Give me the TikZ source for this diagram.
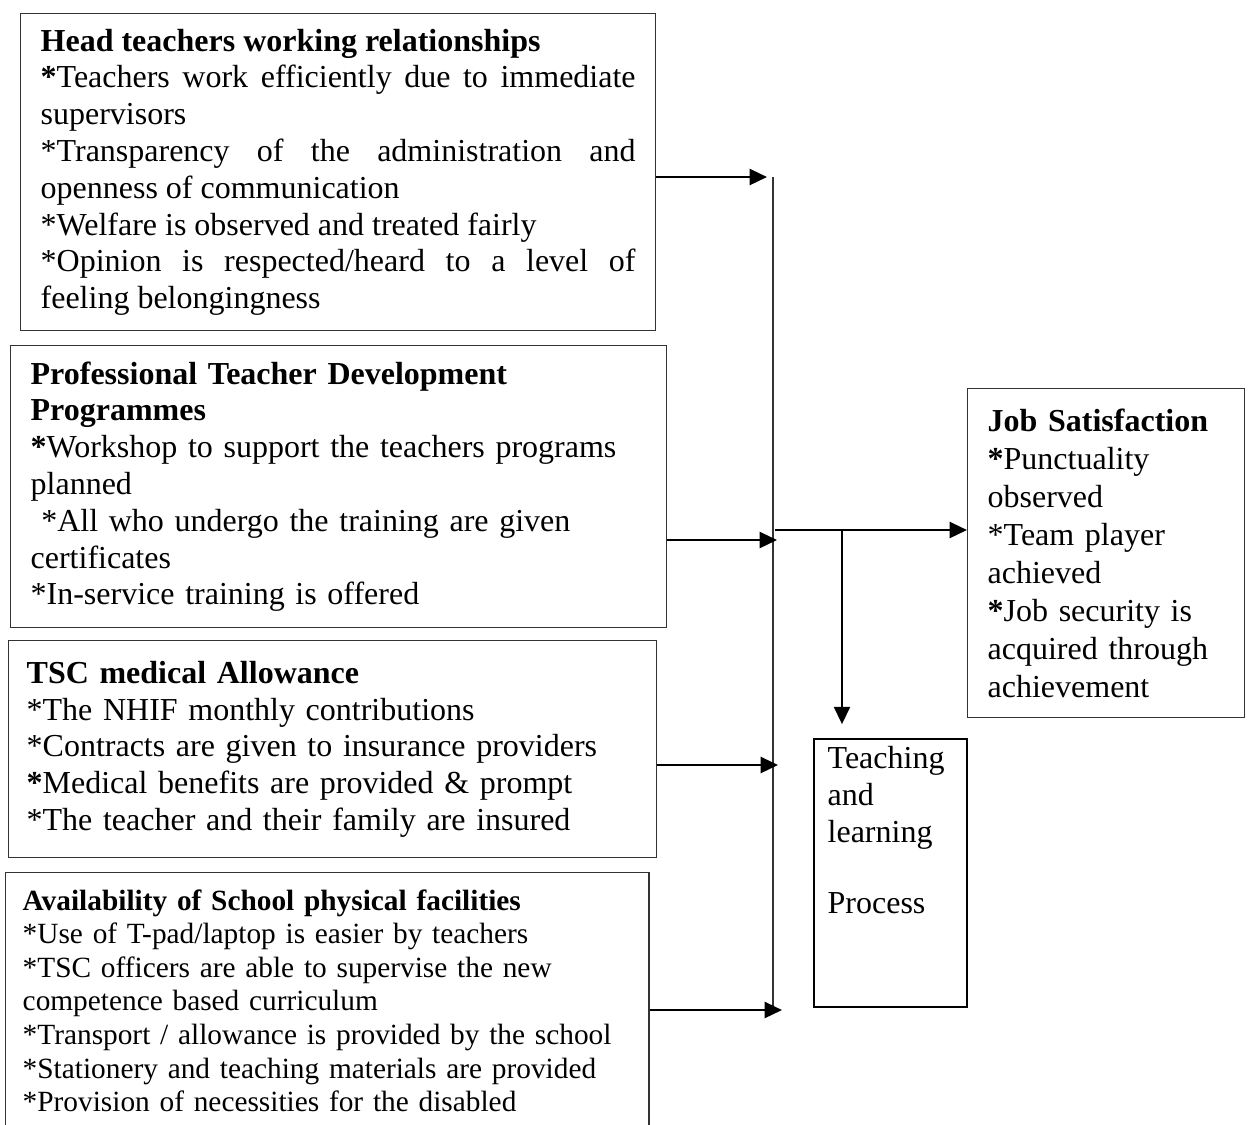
\documentclass[tikz,border=0pt]{standalone}
\usepackage{fontspec}
\setmainfont{Liberation Serif}
\usetikzlibrary{arrows.meta,positioning}

\begin{document}
\begin{tikzpicture}[x=0.375pt, y=-0.375pt, >={Triangle[length=6.5pt,width=6pt]},
    box/.style={draw=black!80, line width=0.5pt, rectangle, anchor=north west, align=left, inner ysep=0pt, font=\fontsize{12}{13.8}\selectfont},
    link/.style={->, line width=0.9pt}]

  \useasboundingbox (0,0) rectangle (1249,1124);

  % Cajas de la izquierda (factores)
  \node[box, align=justify, inner xsep=7.5pt, text width=223.1pt, minimum height=118.9pt] (head) at (20,13)
    {\textbf{Head teachers working relationships}\par
     \textbf{*}Teachers work efficiently due to immediate\linebreak supervisors\par
     *Transparency of the administration and\linebreak openness of communication\par
     *Welfare is observed and treated fairly\par
     *Opinion is respected/heard to a level of\linebreak feeling belongingness\par};
  \node[box, inner xsep=7.5pt, text width=231pt, minimum height=105.75pt] (prof) at (10,345)
    {\textbf{Professional Teacher Development}\\\textbf{Programmes}\\
     \textbf{*}Workshop to support the teachers programs\\planned\\
     \ *All who undergo the training are given\\certificates\\{}%
     *In-service training is offered};
  \node[box, inner xsep=6.75pt, text width=229.5pt, minimum height=81.4pt] (tsc) at (8,640)
    {\textbf{TSC medical Allowance}\\{}%
     *The NHIF monthly contributions\\{}%
     *Contracts are given to insurance providers\\
     \textbf{*}Medical benefits are provided \& prompt\\{}%
     *The teacher and their family are insured};
  \node[box, inner xsep=6.4pt, text width=228.4pt, minimum height=96pt, font=\fontsize{11}{12.6}\selectfont] (facil) at (5,872)
    {\textbf{Availability of School physical facilities}\\{}%
     *Use of T-pad/laptop is easier by teachers\\{}%
     *TSC officers are able to supervise the new\\competence based curriculum\\{}%
     *Transport / allowance is provided by the school\\{}%
     *Stationery and teaching materials are provided\\{}%
     *Provision of necessities for the disabled};

  % Cajas de la derecha (resultados)
  \node[box, inner xsep=7.5pt, text width=88.9pt, minimum height=123.4pt, font=\fontsize{12}{14.25}\selectfont] (job) at (967,388)
    {\textbf{Job Satisfaction}\\
     \textbf{*}Punctuality\\observed\\{}*Team player\\achieved\\
     \textbf{*}Job security is\\acquired through\\achievement};
  \node[box, draw=black, line width=0.9pt, minimum width=57.4pt, minimum height=100.5pt,
    label={[anchor=north west, align=left, inner xsep=5.3pt, inner ysep=3pt, font=\fontsize{12}{13.8}\selectfont]north west:{Teaching\\and\\learning\\[13pt]Process}}] (teach) at (813,738) {};

  % Linea vertical y puntos de llegada
  \coordinate (bustop) at (773,177);
  \coordinate (busbot) at (773,1012);
  \draw[draw=black!80, line width=0.5pt] (bustop) -- (busbot);
  \coordinate (t1) at (767,177);
  \coordinate (t2) at (777,540);
  \coordinate (t3) at (778,765);
  \coordinate (t4) at (782,1010);
  \coordinate (split) at (775,530);
  \coordinate (drop) at (842,530);

  % Conexiones
  \draw[link] (head.east |- t1) -- (t1);
  \draw[link] (prof.east |- t2) -- (t2);
  \draw[link] (tsc.east |- t3) -- (t3);
  \draw[link] (facil.east |- t4) -- (t4);
  \draw[link] (split) -- (split -| job.west);
  \draw[link, shorten >=5.2pt] (drop) -- (drop |- teach.north);

\end{tikzpicture}
\end{document}
